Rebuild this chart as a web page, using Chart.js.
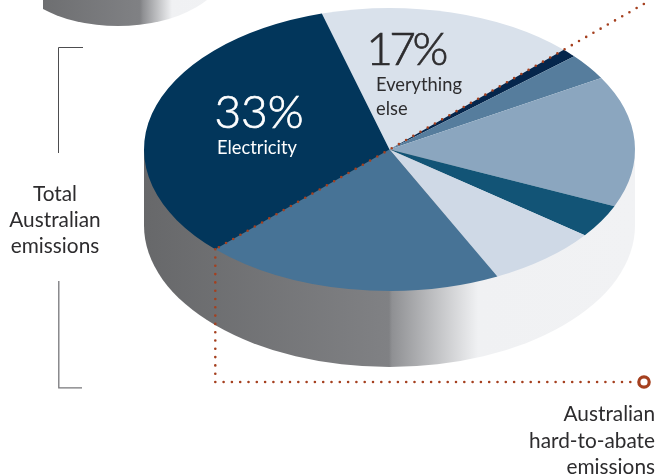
<!DOCTYPE html>
<html>
<head>
<meta charset="utf-8">
<title>Australian emissions</title>
<script src="https://cdn.jsdelivr.net/npm/chart.js@4/dist/chart.umd.min.js"></script>
<style>
  html, body { margin: 0; padding: 0; background: #fff; overflow: hidden; }
  canvas { display: block; }
</style>
</head>
<body>
<canvas id="pie" width="655" height="476"></canvas>
<script>
// sector shares of total emissions, clockwise from "Everything else"
const categories = ['Everything else', '', '', '', '', '', '', 'Electricity'];
const shares = [17, 1, 3, 15, 3.8, 7.4, 19.8, 33];
const sliceColors = ['#d9e1eb', '#05264c', '#567d9d', '#8ba6bf', '#125476', '#cfd9e6', '#477396', '#02365b'];

const tilt = { cx: 389.5, cy: 149.5, rx: 245.5, ry: 141.5, depth: 76, fadeFrom: 389, fadeTo: 478 };
// the disc above is cut off by the top of the page and by its own left edge
const upperDisc = { cx: 118, cy: -97, rx: 110, ry: 63, depth: 60, fadeFrom: 140, fadeTo: 172, clipLeft: 43 };
const inkColor = '#2d2c2e';
const rust = '#a5401f';

function wallGradient(ctx, d) {
  const x0 = d.cx - d.rx, w = 2 * d.rx;
  const at = x => Math.min(1, Math.max(0, (x - x0) / w));
  const g = ctx.createLinearGradient(x0, 0, x0 + w, 0);
  g.addColorStop(0, '#67686a');
  g.addColorStop(at(d.fadeFrom), '#808184');
  g.addColorStop(at(d.fadeFrom + 3), '#8f9093');
  g.addColorStop(at(d.fadeTo), '#f0f1f3');
  g.addColorStop(1, '#f1f2f4');
  return g;
}

function drawWall(ctx, d) {
  ctx.save();
  if (d.clipLeft) {
    ctx.beginPath();
    ctx.rect(d.clipLeft, 0, 655 - d.clipLeft, 476);
    ctx.clip();
  }
  ctx.beginPath();
  ctx.moveTo(d.cx - d.rx, d.cy);
  ctx.lineTo(d.cx - d.rx, d.cy + d.depth);
  ctx.ellipse(d.cx, d.cy + d.depth, d.rx, d.ry, 0, Math.PI, 0, true);
  ctx.lineTo(d.cx + d.rx, d.cy);
  ctx.closePath();
  ctx.fillStyle = wallGradient(ctx, d);
  ctx.fill();
  ctx.restore();
}

function drawLines(ctx, lines, x, y, lineHeight, font, color, align, spacing) {
  ctx.font = font;
  ctx.fillStyle = color;
  ctx.textAlign = align;
  ctx.textBaseline = 'alphabetic';
  ctx.letterSpacing = spacing || '0px';
  lines.forEach((t, i) => ctx.fillText(t, x, y + i * lineHeight));
  ctx.letterSpacing = '0px';
}

// big percentages sit between the light and regular weights
function drawPercent(ctx, text, x, y, color, spacing) {
  ctx.strokeStyle = color;
  ctx.lineWidth = 0.7;
  ctx.letterSpacing = spacing || '0px';
  ctx.font = '300 46px Lato';
  ctx.textAlign = 'center';
  ctx.textBaseline = 'alphabetic';
  ctx.strokeText(text, x, y);
  ctx.letterSpacing = '0px';
  drawLines(ctx, [text], x, y, 0, '300 46px Lato', color, 'center', spacing);
}

const tiltedPie = {
  id: 'tiltedPie',
  beforeDatasetsDraw(chart) {
    const ctx = chart.ctx;
    const arc = chart.getDatasetMeta(0).data[0];
    drawWall(ctx, upperDisc);
    drawWall(ctx, tilt);
    ctx.save();
    ctx.translate(tilt.cx, tilt.cy);
    ctx.scale(tilt.rx / arc.outerRadius, tilt.ry / arc.outerRadius);
    ctx.translate(-arc.x, -arc.y);
  },
  afterDatasetsDraw(chart) {
    chart.ctx.restore();
  },
  afterDraw(chart) {
    const ctx = chart.ctx;
    const meta = chart.getDatasetMeta(0);
    const electricity = meta.data[categories.indexOf('Electricity')];

    // the half-way cut runs through the start of the electricity slice
    const ex = tilt.cx + tilt.rx * Math.cos(electricity.startAngle);
    const ey = tilt.cy + tilt.ry * Math.sin(electricity.startAngle);
    const far = 1.46;
    ctx.save();
    ctx.strokeStyle = rust;
    ctx.lineWidth = 2.6;
    ctx.lineCap = 'round';
    ctx.setLineDash([0, 8.3]);
    ctx.beginPath();
    ctx.moveTo(tilt.cx - (ex - tilt.cx) * far, tilt.cy - (ey - tilt.cy) * far);
    ctx.lineTo(ex, ey);
    ctx.stroke();
    ctx.beginPath();
    ctx.moveTo(ex, ey);
    ctx.lineTo(ex, 382);
    ctx.lineTo(638, 382);
    ctx.stroke();
    ctx.restore();

    ctx.beginPath();
    ctx.arc(644, 382, 5.2, 0, Math.PI * 2);
    ctx.strokeStyle = rust;
    ctx.lineWidth = 3.2;
    ctx.stroke();

    // bracket round the left-hand caption
    ctx.strokeStyle = '#4d4d4f';
    ctx.lineWidth = 1;
    ctx.beginPath();
    ctx.moveTo(83, 47.5);
    ctx.lineTo(58.5, 47.5);
    ctx.lineTo(58.5, 153);
    ctx.stroke();
    ctx.strokeStyle = '#77777a';
    ctx.lineWidth = 1.3;
    ctx.beginPath();
    ctx.moveTo(58.8, 281);
    ctx.lineTo(58.8, 387.8);
    ctx.lineTo(82, 387.8);
    ctx.stroke();

    drawPercent(ctx, '33%', 259, 128, '#ffffff');
    drawLines(ctx, ['Electricity'], 257, 153.5, 0, '18.3px Lato', '#ffffff', 'center');
    drawPercent(ctx, '17%', 405.5, 65, inkColor, '-3.5px');
    drawLines(ctx, ['Everything', 'else'], 376, 91, 24, '18.3px Lato', inkColor, 'left');
    drawLines(ctx, ['Total', 'Australian', 'emissions'], 55, 200.5, 26, '20.8px Lato', inkColor, 'center');
    drawLines(ctx, ['Australian', 'hard-to-abate', 'emissions'], 655, 421, 26.5, '20.8px Lato', inkColor, 'right');
  }
};

new Chart(document.getElementById('pie'), {
  type: 'pie',
  data: {
    labels: categories,
    datasets: [{ data: shares, backgroundColor: sliceColors, borderWidth: 0, clip: false }]
  },
  options: {
    responsive: false,
    animation: false,
    rotation: -16,
    plugins: { legend: { display: false }, tooltip: { enabled: false } }
  },
  plugins: [tiltedPie]
});
</script>
</body>
</html>
